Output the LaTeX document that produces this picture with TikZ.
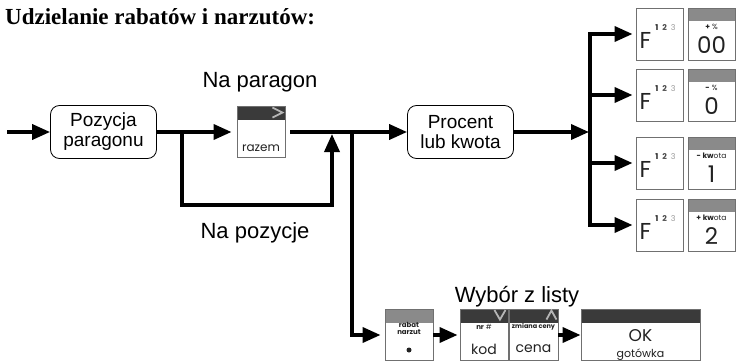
\documentclass[tikz,border=0pt]{standalone}
\usepackage{fontspec}
\setmainfont{Liberation Serif}
\setsansfont{Liberation Sans}
\newfontfamily\keyfont{Poppins}
\usetikzlibrary{arrows.meta}

\definecolor{keyedge}{HTML}{707070}
\definecolor{hdrdark}{HTML}{3A3A3A}
\definecolor{hdrmid}{HTML}{8A8A8A}
\definecolor{chevgray}{HTML}{B5B5B5}
\definecolor{keyink}{HTML}{222222}

\begin{document}
\begin{tikzpicture}[x=1pt, y=-1pt,
  arr/.style={-{Triangle[length=18pt,width=15pt]}, line width=3.6pt},
  box/.style={draw, line width=0.8pt, rounded corners=9pt, fill=white, minimum width=106pt, minimum height=53pt, align=center, inner sep=1pt, font=\sffamily\fontsize{19}{20}\selectfont},
  key/.style={draw=keyedge, line width=0.9pt, fill=white, minimum width=48pt, minimum height=52pt, inner sep=0pt},
  hdr/.style={path picture={\fill[#1] (path picture bounding box.north west) rectangle ([yshift=-13pt]path picture bounding box.north east);}},
  lbl/.style={font=\sffamily\fontsize{22}{24}\selectfont, anchor=base, inner sep=0pt},
  ktxt/.style={font=\keyfont\fontsize{#1}{#1}\selectfont, text=keyink, inner sep=0pt, align=center},
  chev/.style={draw=chevgray, line width=1.8pt}
]
\useasboundingbox (0,0) rectangle (736,361);

% Tytul
\node[font=\bfseries\fontsize{23}{26}\selectfont, anchor=base west, inner sep=0pt] (title) at (5,25) {Udzielanie rabatów i narzutów:};

% Glowna linia
\node[box] (poz) at (103.5,132) {Pozycja\\paragonu};
\node[key, hdr=hdrdark, minimum height=51pt] (razem) at (261,132) {};
\node[ktxt=12] (razemT) at ([yshift=-16pt]razem.center) {razem};
\draw[chev] ([xshift=-13pt,yshift=-1.5pt]razem.north east) -- ([xshift=-3pt,yshift=-6.5pt]razem.north east) -- ([xshift=-13pt,yshift=-11.5pt]razem.north east);
\node[box] (pk) at (460.5,132) {Procent\\lub kwota};

\node[lbl] (lpar) at (260,87) {Na paragon};
\node[lbl] (lpoz) at (255,238) {Na pozycje};

% Klawisze F i wartosci
\node[key, minimum width=47pt] (f1) at (659.5,34) {};
\node[key, minimum width=47pt] (f2) at (659.5,95) {};
\node[key, minimum width=47pt] (f3) at (659.5,163) {};
\node[key, minimum width=47pt] (f4) at (659.5,225) {};
\node[ktxt=23] (f1F) at ([xshift=-14pt,yshift=-6pt]f1.center) {F};
\node[ktxt=23] (f2F) at ([xshift=-14pt,yshift=-6pt]f2.center) {F};
\node[ktxt=23] (f3F) at ([xshift=-14pt,yshift=-6pt]f3.center) {F};
\node[ktxt=23] (f4F) at ([xshift=-14pt,yshift=-6pt]f4.center) {F};
\node[ktxt=8] (f1n) at ([xshift=6pt,yshift=6pt]f1.center) {\textbf{1}\hspace{4pt}{\color{black!70}\textbf{2}}\hspace{4pt}{\color{black!40}3}};
\node[ktxt=8] (f2n) at ([xshift=6pt,yshift=6pt]f2.center) {\textbf{1}\hspace{4pt}{\color{black!70}\textbf{2}}\hspace{4pt}{\color{black!40}3}};
\node[ktxt=8] (f3n) at ([xshift=6pt,yshift=6pt]f3.center) {\textbf{1}\hspace{4pt}{\color{black!70}\textbf{2}}\hspace{4pt}{\color{black!40}3}};
\node[ktxt=8] (f4n) at ([xshift=6pt,yshift=6pt]f4.center) {\textbf{1}\hspace{4pt}{\color{black!70}\textbf{2}}\hspace{4pt}{\color{black!40}3}};

\node[key, hdr=hdrmid, minimum width=47pt] (v1) at (711.5,34) {};
\node[key, hdr=hdrmid, minimum width=47pt] (v2) at (711.5,95) {};
\node[key, hdr=hdrmid, minimum width=47pt] (v3) at (711.5,163) {};
\node[key, hdr=hdrmid, minimum width=47pt] (v4) at (711.5,225) {};
\node[ktxt=7.5] (v1a) at ([yshift=7pt]v1.center) {\textbf{+} \%};
\node[ktxt=7.5] (v2a) at ([yshift=7pt]v2.center) {\textbf{-} \%};
\node[ktxt=7.5] (v3a) at ([yshift=7pt]v3.center) {\textbf{- kw}ota};
\node[ktxt=7.5] (v4a) at ([yshift=7pt]v4.center) {\textbf{+ kw}ota};
\node[ktxt=23] (v1b) at ([yshift=-11pt]v1.center) {00};
\node[ktxt=23] (v2b) at ([yshift=-11pt]v2.center) {0};
\node[ktxt=23] (v3b) at ([yshift=-11pt]v3.center) {1};
\node[ktxt=23] (v4b) at ([yshift=-11pt]v4.center) {2};

% Wybor z listy
\node[lbl] (llst) at (517,302) {Wybór z listy};
\node[key, hdr=hdrmid, minimum height=51pt] (rab) at (409,335) {};
\node[ktxt=7] (rabT) at ([yshift=7pt]rab.center) {\textbf{rabat}\\\textbf{narzut}};
\fill[keyink] ([yshift=-15pt]rab.center) circle (2.5pt);
\node[key, hdr=hdrdark, minimum height=51pt] (kod) at (484,335) {};
\node[ktxt=7] (kodA) at ([yshift=8pt]kod.center) {\textbf{nr} \#};
\node[ktxt=14] (kodB) at ([yshift=-14pt]kod.center) {kod};
\draw[chev] ([xshift=-14pt,yshift=-1pt]kod.north east) -- ([xshift=-8.5pt,yshift=-10.5pt]kod.north east) -- ([xshift=-3pt,yshift=-1pt]kod.north east);
\node[key, hdr=hdrdark, minimum width=49pt, minimum height=51pt] (cena) at (533.5,335) {};
\node[ktxt=6.5] (cenaA) at ([yshift=8pt]cena.center) {\textbf{zmiana ceny}};
\node[ktxt=14] (cenaB) at ([yshift=-14pt]cena.center) {cena};
\draw[chev] ([xshift=-12pt,yshift=-10.5pt]cena.north east) -- ([xshift=-7pt,yshift=-1.5pt]cena.north east) -- ([xshift=-2pt,yshift=-10.5pt]cena.north east);
\node[key, hdr=hdrdark, minimum width=119pt, minimum height=51pt] (ok) at (640.5,335) {};
\node[ktxt=17] (okA) at ([yshift=-1pt]ok.center) {OK};
\node[ktxt=11] (okB) at ([yshift=-20pt]ok.center) {gotówka};

% Polaczenia
\coordinate (start) at (7,132);
\coordinate (byp) at (182,132);
\coordinate (bypd) at (182,205);
\coordinate (jn) at (332,132);
\coordinate (drop) at (352,132);
\coordinate (fork) at (590,132);
\draw[arr] (start) -- (poz.west);
\draw[arr, shorten >=5pt] (poz.east) -- (razem.west);
\draw[arr, shorten <=5pt] (razem.east) -- (pk.west);
\draw[arr] (byp) -- (bypd) -| ([yshift=-2pt]jn);
\draw[arr, shorten >=4pt] (drop) |- (rab.west);
\draw[arr, shorten >=2pt] (rab.east) -- (kod.west);
\draw[arr] (cena.east) -- (ok.west);
\draw[arr, shorten >=1pt] (pk.east) -- (fork);
\draw[arr, shorten >=3pt] (fork) |- (f1.west);
\draw[arr, shorten >=3pt] (fork) |- (f2.west);
\draw[arr, shorten >=3pt] (fork) |- (f3.west);
\draw[arr, shorten >=3pt] (fork) |- (f4.west);
\end{tikzpicture}
\end{document}
